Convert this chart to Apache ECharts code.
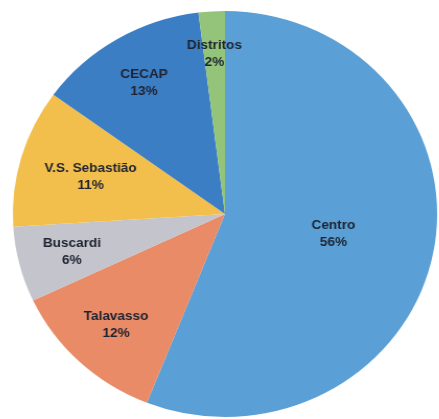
<!DOCTYPE html>
<html>
<head>
<meta charset="utf-8">
<style>
  html, body { margin: 0; padding: 0; background: #ffffff; overflow: hidden; }
  /* the pie is drawn slightly wider than tall */
  #chart { width: 439px; height: 419px; transform: scaleX(1.045); transform-origin: 225px 214px; }
</style>
<script src="https://cdn.jsdelivr.net/npm/echarts@6/dist/echarts.min.js"></script>
</head>
<body>
<div id="chart"></div>
<script>
// Share of records per area (%)
const categories = ['Centro', 'Talavasso', 'Buscardi', 'V.S. Sebastião', 'CECAP', 'Distritos'];
const shares = [56, 12, 6, 11, 13, 2];
const sliceColors = ['#5a9fd5', '#e98b67', '#c3c4cc', '#f3bf4c', '#3c7ec3', '#93c479'];

// Pie geometry and where each label sits along its slice radius (fraction of radius)
const CX = 225, CY = 214, R = 203;
const labelRadius = [0.52, 0.75, 0.745, 0.66, 0.75, 0.79];

const total = shares.reduce((a, b) => a + b, 0);
const midAngles = [];
let acc = 0;
shares.forEach(v => { midAngles.push((acc + v / 2) / total * 2 * Math.PI); acc += v; });

const chart = echarts.init(document.getElementById('chart'), null, { renderer: 'canvas' });
chart.setOption({
  backgroundColor: '#ffffff',
  animation: false,
  series: [{
    type: 'pie',
    center: [CX, CY],
    radius: [0, R],
    startAngle: 90,
    clockwise: true,
    data: categories.map((name, i) => ({
      name, value: shares[i], itemStyle: { color: sliceColors[i] }
    })),
    itemStyle: { borderWidth: 0 },
    label: {
      show: true,
      position: 'inside',
      formatter: p => p.name + '\n' + p.value + '%',
      fontFamily: 'Liberation Sans, Arial, sans-serif',
      fontWeight: 'bold',
      fontSize: 13,
      lineHeight: 17,
      color: '#1e2330',
      align: 'center',
      verticalAlign: 'middle'
    },
    labelLine: { show: false },
    labelLayout: function (params) {
      const i = params.dataIndex;
      const a = midAngles[i];
      const d = labelRadius[i] * R;
      return {
        x: CX + d * Math.sin(a),
        y: CY - d * Math.cos(a),
        align: 'center',
        verticalAlign: 'middle'
      };
    }
  }]
});
</script>
</body>
</html>
